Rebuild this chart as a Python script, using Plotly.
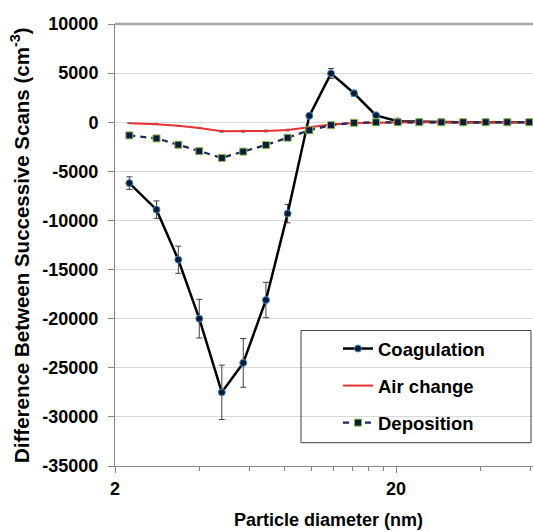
import math
import plotly.graph_objects as go

# Particle size channels (nm)
diameter_nm = [2.25, 2.81, 3.36, 3.99, 4.80, 5.72, 6.89, 8.23, 9.83, 11.74,
               14.18, 16.98, 20.28, 24.2, 29.0, 34.7, 41.7, 49.8, 59.6]

# Difference between successive scans (cm^-3) for each loss process
coagulation = [-6200, -8900, -14000, -20000, -27500, -24500, -18100, -9300, 650, 4970,
               2950, 700, 100, 40, 10, 0, 0, 0, 0]
coagulation_err = [640, 890, 1380, 1970, 2770, 2480, 1800, 940, 80, 500,
                   290, 70, 10, 5, 0, 0, 0, 0, 0]
air_change = [-100, -200, -370, -580, -920, -920, -890, -800, -500, -230,
              -80, -30, -10, 0, 0, 0, 0, 0, 0]
air_change_err = [10, 20, 35, 55, 90, 90, 90, 80, 50, 20,
                  8, 3, 1, 0, 0, 0, 0, 0, 0]
deposition = [-1340, -1650, -2290, -2950, -3630, -2990, -2310, -1580, -820, -300,
              -60, -10, 0, 0, 0, 0, 0, 0, 0]

x_ticks = [2, 20]
x_minor_ticks = [4, 6, 8, 10, 12, 14, 16, 18, 40, 60]
y_ticks = list(range(-35000, 10001, 5000))

FONT = "Liberation Sans, Arial, sans-serif"
AXIS_GRAY = "#868686"
GRID_GRAY = "#d9d9d9"

x_range = [math.log10(2), math.log10(2) + 418 / 281]
y_range = [-35000, 10000]

fig = go.Figure()

fig.add_trace(go.Scatter(
    x=diameter_nm, y=coagulation, name="Coagulation", legendgroup="coag",
    mode="lines+markers",
    line=dict(color="#000000", width=2.5),
    marker=dict(symbol="circle", size=7, color="#0b1a2c",
                line=dict(color="#3d8fd1", width=1)),
    error_y=dict(type="data", array=coagulation_err, color="#404040",
                 thickness=1, width=3),
))

fig.add_trace(go.Scatter(
    x=diameter_nm, y=air_change, name="Air change", legendgroup="air",
    mode="lines",
    line=dict(color="#e8322f", width=2),
    error_y=dict(type="data", array=air_change_err, color="#555555",
                 thickness=1, width=2),
))

fig.add_trace(go.Scatter(
    x=diameter_nm, y=deposition, name="Deposition", legendgroup="dep",
    mode="lines+markers",
    line=dict(color="#1c2a57", width=2.25, dash="6px,5px"),
    marker=dict(symbol="square", size=7, color="#0e1c3c",
                line=dict(color="#8dbb4c", width=1)),
))

tick_font = dict(family=FONT, size=18, color="#000000", weight="bold")

fig.update_layout(
    width=533, height=532,
    margin=dict(l=115, r=0, t=24, b=66, pad=0),
    paper_bgcolor="white", plot_bgcolor="white",
    font=dict(family=FONT, color="#000000"),
    showlegend=True,
    legend=dict(
        x=(338 - 115) / 418, xanchor="left",
        y=(466 - 330) / 442, yanchor="top",
        bgcolor="rgba(0,0,0,0)", borderwidth=0,
        font=dict(family=FONT, size=18.5, color="#000000", weight="bold"),
        tracegroupgap=10, itemwidth=30,
    ),
    xaxis=dict(
        type="log", range=x_range,
        tickvals=x_ticks, ticktext=[str(v) for v in x_ticks],
        tickfont=tick_font,
        ticks="outside", ticklen=6, tickwidth=1, tickcolor=AXIS_GRAY,
        minor=dict(tickvals=x_minor_ticks, ticks="outside", ticklen=4,
                   tickwidth=1, tickcolor=AXIS_GRAY, showgrid=False),
        showgrid=False, zeroline=False,
        showline=True, linecolor=AXIS_GRAY, linewidth=1,
    ),
    xaxis2=dict(
        type="log", range=x_range, overlaying="x", anchor="y", side="bottom",
        tickvals=x_ticks, showticklabels=False,
        ticks="inside", ticklen=7, tickwidth=1, tickcolor=AXIS_GRAY,
        showgrid=False, zeroline=False, showline=False,
    ),
    yaxis=dict(
        range=y_range,
        tickvals=y_ticks, ticktext=[str(v) for v in y_ticks],
        tickfont=tick_font,
        ticks="outside", ticklen=6, tickwidth=1, tickcolor=AXIS_GRAY,
        ticklabelstandoff=6,
        showgrid=True, gridcolor=GRID_GRAY, gridwidth=1,
        zeroline=False,
        showline=True, linecolor=AXIS_GRAY, linewidth=1,
    ),
    yaxis2=dict(
        range=y_range, overlaying="y", anchor="x", side="left",
        tickvals=y_ticks, showticklabels=False,
        ticks="inside", ticklen=4, tickwidth=1, tickcolor=AXIS_GRAY,
        showgrid=False, zeroline=False, showline=False,
    ),
    shapes=[
        # top edge of the plotting area
        dict(type="line", xref="paper", yref="paper", x0=0, x1=1, y0=1, y1=1,
             line=dict(color="#a6a6a6", width=2.5), layer="above"),
        # legend frame
        dict(type="rect", xref="paper", yref="paper",
             x0=(301 - 115) / 418, x1=(531 - 115) / 418,
             y0=(466 - 442.7) / 442, y1=(466 - 330.5) / 442,
             line=dict(color="#404040", width=1), fillcolor="rgba(0,0,0,0)",
             layer="above"),
    ],
    annotations=[
        dict(text="Particle diameter (nm)", xref="paper", yref="paper",
             x=(328 - 115) / 418, y=(466 - 520) / 442,
             xanchor="center", yanchor="middle", showarrow=False,
             font=dict(family=FONT, size=18, color="#000000", weight="bold")),
        dict(text="Difference Between Successive Scans (cm<sup>-3</sup>)",
             xref="paper", yref="paper",
             x=(20 - 115) / 418, y=0.5, textangle=-90,
             xanchor="center", yanchor="middle", showarrow=False,
             font=dict(family=FONT, size=20.5, color="#000000", weight="bold")),
    ],
)

fig.write_html("out.html")
